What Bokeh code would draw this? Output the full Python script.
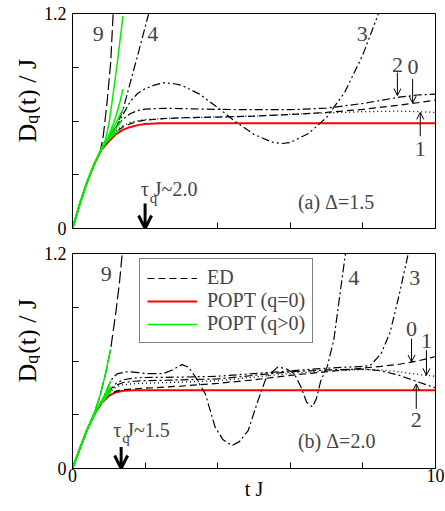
import math
from bokeh.plotting import figure
from bokeh.models import Label, Arrow, OpenHead, Legend, LegendItem, FixedTicker, Range1d
from bokeh.layouts import column, row
from bokeh.core.properties import value
from bokeh.embed import file_html
from bokeh.resources import INLINE

FONT = "Liberation Serif"

# ---------------- data: panel (a) Delta = 1.5 ----------------
ta_red = [0, 0.2, 0.4, 0.6, 0.8, 1.0, 1.2, 1.4, 1.6, 1.8, 2.0, 2.4, 3.0, 10.0]
ya_red = [0, 0.137, 0.258, 0.36, 0.44, 0.487, 0.527, 0.552, 0.567, 0.577, 0.583, 0.587, 0.588, 0.588]

ta_ed = [0, 0.2, 0.4, 0.6, 0.8, 1.0, 1.2, 1.4, 1.6, 1.8, 2.0, 2.5, 3, 4, 5, 6, 7, 8, 9, 9.5, 10]
ya_ed0 = [0, 0.137, 0.258, 0.36, 0.44, 0.495, 0.54, 0.568, 0.585, 0.597, 0.605, 0.613, 0.618, 0.622, 0.627, 0.636, 0.648, 0.665, 0.688, 0.702, 0.716]
ya_ed1 = [0, 0.137, 0.258, 0.36, 0.44, 0.497, 0.545, 0.575, 0.592, 0.602, 0.608, 0.614, 0.618, 0.622, 0.628, 0.637, 0.645, 0.652, 0.655, 0.652, 0.648]
ya_ed2 = [0, 0.137, 0.258, 0.36, 0.445, 0.51, 0.565, 0.612, 0.642, 0.658, 0.666, 0.671, 0.669, 0.665, 0.663, 0.663, 0.672, 0.698, 0.733, 0.745, 0.75]

ta_ed3 = [0, 0.2, 0.4, 0.6, 0.8, 1.0, 1.2, 1.4, 1.6, 1.8, 2.0, 2.25, 2.5, 2.75, 3, 3.5, 4, 4.5, 5, 5.5, 5.75, 6, 6.5, 7, 7.5, 8, 8.43]
ya_ed3 = [0, 0.137, 0.258, 0.36, 0.445, 0.505, 0.565, 0.64, 0.712, 0.755, 0.78, 0.8, 0.813, 0.81, 0.8, 0.75, 0.675, 0.595, 0.525, 0.482, 0.474, 0.48, 0.53, 0.62, 0.76, 0.97, 1.2]

ta_ed4 = [0, 0.2, 0.4, 0.6, 0.8, 1.0, 1.2, 1.4, 1.6, 1.8, 2.1]
ya_ed4 = [0, 0.137, 0.258, 0.36, 0.445, 0.505, 0.56, 0.67, 0.82, 0.97, 1.2]

ta_ed9 = [0, 0.2, 0.4, 0.6, 0.75, 0.85, 0.95, 1.05, 1.12]
ya_ed9 = [0, 0.137, 0.258, 0.362, 0.415, 0.52, 0.7, 0.92, 1.2]

ta_g9 = [0, 0.2, 0.4, 0.6, 0.8, 0.9, 1.0, 1.1, 1.25, 1.39]
ya_g9 = [0, 0.137, 0.258, 0.362, 0.45, 0.49, 0.58, 0.72, 0.95, 1.185]
ta_g = [0, 0.2, 0.4, 0.6, 0.8, 0.9, 1.0, 1.1, 1.2, 1.3, 1.39]
ya_g4 = [0, 0.137, 0.258, 0.36, 0.445, 0.48, 0.52, 0.57, 0.63, 0.70, 0.778]
ya_g3 = [0, 0.137, 0.258, 0.36, 0.443, 0.477, 0.51, 0.55, 0.59, 0.63, 0.666]
ta_g2 = [0, 0.2, 0.4, 0.6, 0.8, 0.9, 1.0, 1.1, 1.2, 1.35]
ya_g2 = [0, 0.137, 0.258, 0.36, 0.442, 0.475, 0.50, 0.53, 0.56, 0.60]
ta_g1 = [0, 0.2, 0.4, 0.6, 0.8, 0.9, 1.0, 1.1, 1.2, 1.3]
ya_g1 = [0, 0.137, 0.258, 0.36, 0.441, 0.473, 0.497, 0.517, 0.535, 0.55]

# ---------------- data: panel (b) Delta = 2.0 ----------------
tb_red = [0, 0.2, 0.4, 0.6, 0.8, 1.0, 1.2, 1.4, 1.7, 2.0, 10.0]
yb_red = [0, 0.11, 0.215, 0.30, 0.365, 0.405, 0.426, 0.434, 0.437, 0.437, 0.437]

tb_ed = [0, 0.2, 0.4, 0.6, 0.8, 1.0, 1.2, 1.4, 1.7, 2, 3, 4, 5, 6, 7, 8, 8.5, 9, 9.5, 10]
yb_ed0 = [0, 0.11, 0.215, 0.30, 0.367, 0.41, 0.432, 0.44, 0.445, 0.448, 0.46, 0.475, 0.495, 0.52, 0.54, 0.56, 0.57, 0.582, 0.60, 0.625]
yb_ed1 = [0, 0.11, 0.215, 0.30, 0.37, 0.42, 0.455, 0.468, 0.474, 0.476, 0.482, 0.49, 0.51, 0.53, 0.545, 0.552, 0.55, 0.54, 0.525, 0.515]
yb_ed2 = [0, 0.11, 0.215, 0.30, 0.37, 0.425, 0.465, 0.48, 0.487, 0.49, 0.495, 0.50, 0.52, 0.54, 0.55, 0.555, 0.545, 0.52, 0.485, 0.45]

tb_ed3 = [0, 0.2, 0.4, 0.6, 0.8, 1.0, 1.2, 1.4, 1.7, 2, 3, 4, 5, 6, 7, 7.5, 8, 8.2, 8.5, 8.75, 9.0, 9.25]
yb_ed3 = [0, 0.11, 0.215, 0.30, 0.37, 0.43, 0.475, 0.495, 0.505, 0.508, 0.51, 0.515, 0.53, 0.545, 0.56, 0.565, 0.57, 0.575, 0.64, 0.76, 0.97, 1.2]

tb_ed4 = [0, 0.2, 0.4, 0.6, 0.8, 1.0, 1.12, 1.25, 1.5, 1.75, 2.0, 2.5, 2.75, 3.02, 3.2, 3.39, 3.66, 3.93, 4.15, 4.39, 4.6,
          4.84, 5.11, 5.34, 5.66, 5.9, 6.11, 6.29, 6.45, 6.61, 6.72, 6.84, 7.02, 7.2, 7.52]
yb_ed4 = [0, 0.11, 0.215, 0.30, 0.375, 0.465, 0.51, 0.53, 0.54, 0.537, 0.53, 0.53, 0.55, 0.58, 0.565, 0.51, 0.416, 0.23, 0.16, 0.128, 0.15,
          0.212, 0.379, 0.509, 0.567, 0.555, 0.53, 0.456, 0.37, 0.344, 0.39, 0.49, 0.57, 0.72, 1.2]

tb_ed9 = [0, 0.2, 0.4, 0.6, 0.75, 0.9, 1.05, 1.2, 1.3, 1.37]
yb_ed9 = [0, 0.11, 0.215, 0.31, 0.40, 0.52, 0.665, 0.88, 1.05, 1.2]

tb_g = [0, 0.2, 0.4, 0.6, 0.75, 0.9, 1.05]
yb_g9 = [0, 0.11, 0.215, 0.31, 0.40, 0.52, 0.665]
yb_g4 = [0, 0.11, 0.215, 0.30, 0.36, 0.415, 0.49]
yb_g3 = [0, 0.11, 0.215, 0.30, 0.358, 0.405, 0.46]
yb_g2 = [0, 0.11, 0.215, 0.30, 0.356, 0.397, 0.44]
yb_g1 = [0, 0.11, 0.215, 0.30, 0.355, 0.39, 0.425]

x_ticks = [0, 2, 4, 6, 8, 10]
y_ticks = [0, 0.3, 0.6, 0.9, 1.2]

DASH = {"0": "7 4", "1": "1 3", "2": "8 3 2 3", "3": "8 3 2 3 2 3", "4": "9 3 2 3", "9": "12 4"}

YL_W = 40
MAIN_W = 445 - YL_W
PX_PER_Y = 215 / 1.2


def make_fig(height, top, bottom, xlabels):
    p = figure(width=MAIN_W, height=height, x_range=Range1d(0, 10), y_range=Range1d(0, 1.2),
               output_backend="svg", toolbar_location=None,
               min_border_left=69 - YL_W, min_border_right=10, min_border_top=top, min_border_bottom=bottom)
    p.grid.visible = False
    p.outline_line_color = "black"
    p.outline_line_width = 1
    p.background_fill_color = "white"
    p.border_fill_color = "white"
    for ax in (p.xaxis[0], p.yaxis[0]):
        ax.major_tick_in = 6
        ax.major_tick_out = 0
        ax.minor_tick_in = 0
        ax.minor_tick_out = 0
        ax.axis_line_color = "black"
        ax.major_tick_line_color = "black"
        ax.major_label_text_font = FONT
        ax.major_label_text_font_size = "18px"
        ax.major_label_text_color = "black"
    p.xaxis.ticker = FixedTicker(ticks=x_ticks)
    p.yaxis.ticker = FixedTicker(ticks=y_ticks)
    p.yaxis.major_label_overrides = {0.3: "", 0.6: "", 0.9: ""}
    p.yaxis.major_label_standoff = 6
    if xlabels:
        p.xaxis.major_label_overrides = {2: "", 4: "", 6: "", 8: ""}
        p.xaxis.major_label_standoff = 0
        p.xaxis.axis_label = "t J"
        p.xaxis.axis_label_text_font = FONT
        p.xaxis.axis_label_text_font_style = "normal"
        p.xaxis.axis_label_text_font_size = "20px"
        p.xaxis.axis_label_text_color = "black"
        p.xaxis.axis_label_standoff = -7
    else:
        p.xaxis.major_label_text_font_size = "0px"
        p.xaxis.major_label_standoff = 0
    return p


def ylab_fig(height, top, bottom, yc):
    f = figure(width=YL_W, height=height, x_range=Range1d(0, YL_W), y_range=Range1d(0, 1.2),
               output_backend="svg", toolbar_location=None, x_axis_location=None, y_axis_location=None,
               min_border_left=0, min_border_right=0, min_border_top=top, min_border_bottom=bottom)
    f.grid.visible = False
    f.outline_line_color = None
    f.background_fill_color = "white"
    f.border_fill_color = "white"
    fs = 26
    xb = 27
    y0 = yc - (0.722 * fs + 10 + 2.11 * fs) / 2 / PX_PER_Y
    f.text(x=[xb], y=[y0], text=["D"], angle=math.pi / 2, text_font=value(FONT),
           text_font_size=value(f"{fs}px"), text_align="left", text_baseline="alphabetic", text_color="black")
    f.text(x=[xb + 4], y=[y0 + 0.722 * fs / PX_PER_Y], text=["q"], angle=math.pi / 2, text_font=value(FONT),
           text_font_size=value("18px"), text_align="left", text_baseline="alphabetic", text_color="black")
    f.text(x=[xb], y=[y0 + (0.722 * fs + 10) / PX_PER_Y], text=["(t) / J"], angle=math.pi / 2,
           text_font=value(FONT), text_font_size=value(f"{fs}px"), text_align="left",
           text_baseline="alphabetic", text_color="black")
    return f


def num(p, x, y, s):
    p.add_layout(Label(x=x, y=y, text=s, text_font=FONT, text_font_size="22px",
                       text_align="center", text_baseline="middle"))


def small_arrow(p, x, y0, y1):
    p.add_layout(Arrow(end=OpenHead(size=7, line_width=1, line_color="black"),
                       x_start=x, y_start=y0, x_end=x, y_end=y1, line_width=1, line_color="black"))


def tau(p, xt, yc, xq, yq, text):
    p.add_layout(Label(x=xt, y=yc, text="τ   " + text, text_font=FONT, text_font_size="20px",
                       text_align="left", text_baseline="middle"))
    p.add_layout(Label(x=xq, y=yq, text="q", text_font=FONT, text_font_size="15px",
                       text_align="left", text_baseline="middle"))


def big_arrow(p, x, y0):
    p.add_layout(Arrow(end=OpenHead(size=13, line_width=3, line_color="black"),
                       x_start=x, y_start=y0, x_end=x, y_end=0.0, line_width=3, line_color="black"))


# ---------------- panel (a) ----------------
H1, T1, B1 = 240, 13, 12
p1 = make_fig(H1, T1, B1, False)
p1.line(ta_red, ya_red, line_color="#ff0000", line_width=2)
p1.line(ta_ed, ya_ed0, line_color="black", line_width=1.2, line_dash=DASH["0"])
p1.line(ta_ed, ya_ed1, line_color="black", line_width=1.3, line_dash=DASH["1"])
p1.line(ta_ed, ya_ed2, line_color="black", line_width=1.2, line_dash=DASH["2"])
p1.line(ta_ed3, ya_ed3, line_color="black", line_width=1.2, line_dash=DASH["3"])
p1.line(ta_ed4, ya_ed4, line_color="black", line_width=1.2, line_dash=DASH["4"])
p1.line(ta_ed9, ya_ed9, line_color="black", line_width=1.2, line_dash=DASH["9"])
for tt, yy in ((ta_g9, ya_g9), (ta_g, ya_g4), (ta_g, ya_g3), (ta_g2, ya_g2), (ta_g1, ya_g1)):
    p1.line(tt, yy, line_color="#00ee00", line_width=1.5)

num(p1, 0.71, 1.086, "9")
num(p1, 2.21, 1.086, "4")
num(p1, 7.98, 1.086, "3")
num(p1, 8.95, 0.91, "2")
num(p1, 9.38, 0.90, "0")
num(p1, 9.58, 0.443, "1")
small_arrow(p1, 8.95, 0.87, 0.742)
small_arrow(p1, 9.37, 0.835, 0.70)
small_arrow(p1, 9.58, 0.515, 0.648)
tau(p1, 1.88, 0.219, 2.13, 0.168, "J~2.0")
big_arrow(p1, 2.0, 0.14)
p1.add_layout(Label(x=6.21, y=0.149, text="(a) Δ=1.5", text_font=FONT, text_font_size="20px",
                    text_align="left", text_baseline="middle"))
yl1 = ylab_fig(H1, T1, B1, 0.713)

# ---------------- panel (b) ----------------
H2, T2, B2 = 271, 13, 43
p2 = make_fig(H2, T2, B2, True)
r_red = p2.line(tb_red, yb_red, line_color="#ff0000", line_width=2)
r_ed0 = p2.line(tb_ed, yb_ed0, line_color="black", line_width=1.2, line_dash=DASH["0"])
p2.line(tb_ed, yb_ed1, line_color="black", line_width=1.3, line_dash=DASH["1"])
p2.line(tb_ed, yb_ed2, line_color="black", line_width=1.2, line_dash=DASH["2"])
p2.line(tb_ed3, yb_ed3, line_color="black", line_width=1.2, line_dash=DASH["3"])
p2.line(tb_ed4, yb_ed4, line_color="black", line_width=1.2, line_dash=DASH["4"])
p2.line(tb_ed9, yb_ed9, line_color="black", line_width=1.2, line_dash=DASH["9"])
r_green = None
for yy in (yb_g9, yb_g4, yb_g3, yb_g2, yb_g1):
    r = p2.line(tb_g, yy, line_color="#00ee00", line_width=1.5)
    if r_green is None:
        r_green = r

num(p2, 0.93, 1.085, "9")
num(p2, 7.75, 1.066, "4")
num(p2, 9.43, 1.066, "3")
num(p2, 9.34, 0.779, "0")
num(p2, 9.75, 0.713, "1")
num(p2, 9.47, 0.268, "2")
small_arrow(p2, 9.34, 0.725, 0.595)
small_arrow(p2, 9.75, 0.66, 0.52)
small_arrow(p2, 9.47, 0.333, 0.472)
tau(p2, 1.12, 0.217, 1.37, 0.172, "J~1.5")
big_arrow(p2, 1.34, 0.12)
p2.add_layout(Label(x=6.21, y=0.153, text="(b) Δ=2.0", text_font=FONT, text_font_size="20px",
                    text_align="left", text_baseline="middle"))

legend = Legend(items=[LegendItem(label="ED", renderers=[r_ed0]),
                       LegendItem(label="POPT (q=0)", renderers=[r_red]),
                       LegendItem(label="POPT (q>0)", renderers=[r_green])],
                location=(67, 125), padding=7, spacing=0, margin=0,
                label_text_font=FONT, label_text_font_size="20px", label_height=22, glyph_height=22,
                glyph_width=50, label_standoff=10, border_line_color="black", border_line_width=1,
                background_fill_alpha=1.0)
p2.add_layout(legend)
yl2 = ylab_fig(H2, T2, B2, 0.713)

layout = column(row(yl1, p1, spacing=0), row(yl2, p2, spacing=0), spacing=0)
open("out.html", "w").write(file_html(layout, INLINE))
